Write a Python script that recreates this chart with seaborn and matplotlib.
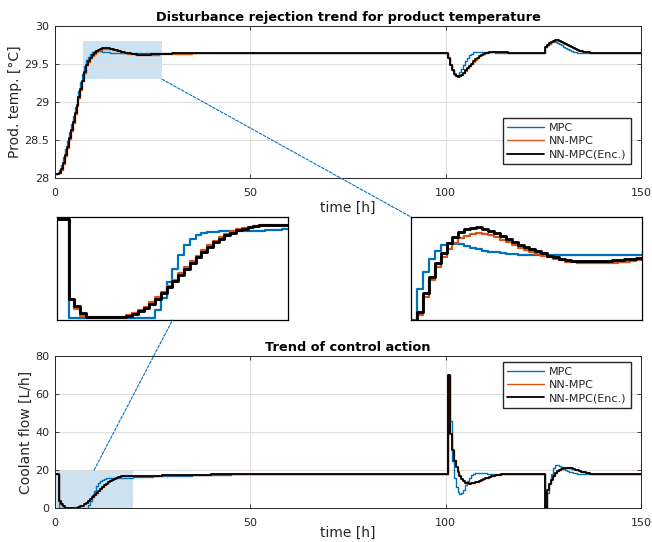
import numpy as np
import pandas as pd
import matplotlib
matplotlib.use("Agg")
import matplotlib.pyplot as plt
import seaborn as sns
from matplotlib.patches import Rectangle, ConnectionPatch

sns.set_theme(style="ticks")
plt.rcParams['font.family'] = ['DejaVu Sans']
plt.rcParams['font.size'] = 8

# sampling grid [h] (0.5 h steps in the transients, sparse in steady state)
t = np.concatenate([
    np.arange(0, 30.01, 0.5),
    [32, 35, 40, 45, 50, 60, 70, 80, 90],
    np.arange(100, 115.01, 0.5),
    [116, 117, 118, 120, 122, 124],
    np.arange(125, 135.01, 0.5),
    [136, 137, 138, 140, 145, 150],
])

# product temperature [°C]
temp_mpc = [
    28.05, 28.06, 28.10, 28.17, 28.27, 28.38, 28.49, 28.60, 28.71, 28.82,
    28.93, 29.04, 29.15, 29.26, 29.37, 29.47, 29.55, 29.595, 29.63, 29.652,
    29.666, 29.671, 29.670, 29.668, 29.664, 29.660, 29.656, 29.652, 29.649, 29.647,
    29.645, 29.643, 29.642, 29.641, 29.641, 29.641, 29.641, 29.641, 29.641, 29.641,
    29.641, 29.641, 29.641, 29.641, 29.641, 29.641, 29.641, 29.641, 29.641, 29.641,
    29.641, 29.641, 29.641, 29.641, 29.641, 29.641, 29.641, 29.641, 29.641, 29.641,
    29.641,
    29.642, 29.643, 29.644, 29.645, 29.645, 29.645, 29.645, 29.645, 29.645,
    29.645, 29.58, 29.49, 29.415, 29.36, 29.34, 29.35, 29.39, 29.44, 29.49,
    29.54, 29.58, 29.615, 29.638, 29.652, 29.66, 29.663, 29.664, 29.663, 29.662,
    29.66, 29.658, 29.656, 29.654, 29.652, 29.65, 29.649, 29.648, 29.647, 29.646,
    29.645,
    29.645, 29.645, 29.645, 29.645, 29.645, 29.645,
    29.645, 29.72, 29.75, 29.775, 29.79, 29.795, 29.79, 29.778, 29.762, 29.745,
    29.727, 29.71, 29.694, 29.68, 29.668, 29.659, 29.653, 29.65, 29.648, 29.646,
    29.645,
    29.645, 29.645, 29.645, 29.645, 29.645, 29.645,
]
temp_nn = [
    28.05, 28.05, 28.06, 28.11, 28.19, 28.29, 28.40, 28.51, 28.62, 28.73,
    28.84, 28.95, 29.05, 29.16, 29.27, 29.38, 29.482, 29.531, 29.574, 29.608,
    29.634, 29.656, 29.672, 29.684, 29.691, 29.695, 29.697, 29.696, 29.692, 29.687,
    29.681, 29.674, 29.667, 29.660, 29.654, 29.648, 29.643, 29.638, 29.634, 29.630,
    29.626, 29.623, 29.621, 29.620, 29.619, 29.619, 29.619, 29.619, 29.619, 29.620,
    29.621, 29.623, 29.624, 29.626, 29.627, 29.628, 29.630, 29.631, 29.632, 29.633,
    29.634,
    29.637, 29.640, 29.643, 29.645, 29.645, 29.645, 29.645, 29.645, 29.645,
    29.645, 29.58, 29.49, 29.418, 29.367, 29.342, 29.333, 29.338, 29.357, 29.382,
    29.411, 29.441, 29.471, 29.501, 29.531, 29.557, 29.582, 29.603, 29.619, 29.631,
    29.641, 29.648, 29.653, 29.656, 29.657, 29.657, 29.656, 29.655, 29.654, 29.653,
    29.652,
    29.651, 29.649, 29.647, 29.646, 29.645, 29.645,
    29.645, 29.72, 29.745, 29.768, 29.787, 29.80, 29.807, 29.808, 29.803, 29.794,
    29.782, 29.768, 29.753, 29.738, 29.723, 29.709, 29.696, 29.685, 29.676, 29.668,
    29.661,
    29.654, 29.649, 29.646, 29.645, 29.645, 29.645,
]
temp_enc = [
    28.05, 28.05, 28.07, 28.12, 28.20, 28.30, 28.41, 28.52, 28.63, 28.74,
    28.85, 28.96, 29.06, 29.17, 29.28, 29.39, 29.49, 29.54, 29.584, 29.619,
    29.646, 29.671, 29.688, 29.701, 29.709, 29.712, 29.713, 29.709, 29.704, 29.697,
    29.690, 29.682, 29.674, 29.667, 29.661, 29.655, 29.651, 29.645, 29.639, 29.634,
    29.629, 29.626, 29.625, 29.624, 29.624, 29.624, 29.624, 29.625, 29.625, 29.626,
    29.628, 29.629, 29.630, 29.632, 29.633, 29.634, 29.635, 29.636, 29.637, 29.638,
    29.639,
    29.641, 29.643, 29.645, 29.645, 29.645, 29.645, 29.645, 29.645, 29.645,
    29.645, 29.58, 29.49, 29.42, 29.37, 29.345, 29.335, 29.34, 29.36, 29.385,
    29.415, 29.445, 29.475, 29.505, 29.535, 29.56, 29.585, 29.605, 29.62, 29.632,
    29.642, 29.649, 29.654, 29.657, 29.658, 29.658, 29.657, 29.656, 29.655, 29.654,
    29.653,
    29.651, 29.649, 29.647, 29.646, 29.645, 29.645,
    29.645, 29.72, 29.745, 29.77, 29.79, 29.805, 29.812, 29.812, 29.806, 29.796,
    29.783, 29.768, 29.752, 29.736, 29.72, 29.705, 29.692, 29.681, 29.672, 29.665,
    29.659,
    29.652, 29.648, 29.646, 29.645, 29.645, 29.645,
]

# coolant flow [L/h]
flow_mpc = [
    17.9, 17.9, 0.0, 0.0, 0.0, 0.0, 0.0, 0.0, 0.0, 0.0,
    0.0, 0.0, 0.0, 0.0, 0.0, 0.0, 0.0, 1.5, 3.6, 6.6,
    9.0, 11.4, 13.2, 14.3, 15.0, 15.4, 15.6, 15.65, 15.7, 15.7,
    15.7, 15.7, 15.72, 15.75, 15.8, 15.85, 15.9, 15.95, 16.0, 16.05,
    16.1, 16.15, 16.2, 16.25, 16.3, 16.35, 16.4, 16.45, 16.5, 16.55,
    16.6, 16.65, 16.7, 16.74, 16.78, 16.82, 16.86, 16.9, 16.94, 16.98,
    17.02,
    17.1, 17.3, 17.55, 17.7, 17.8, 17.88, 17.9, 17.9, 17.9,
    17.9, 70.0, 46.0, 25.0, 16.0, 11.0, 8.5, 7.4, 7.8, 9.5,
    12.0, 14.2, 16.0, 17.2, 18.0, 18.4, 18.5, 18.5, 18.4, 18.3,
    18.2, 18.1, 18.0, 17.95, 17.9, 17.9, 17.9, 17.9, 17.9, 17.9,
    17.9,
    17.9, 17.9, 17.9, 17.9, 17.9, 17.9,
    17.9, 0.0, 7.7, 13.0, 18.0, 21.0, 22.4, 22.6, 22.2, 21.5,
    20.8, 20.2, 19.7, 19.2, 18.8, 18.5, 18.3, 18.15, 18.0, 17.95,
    17.9,
    17.9, 17.9, 17.9, 17.9, 17.9, 17.9,
]
flow_nn = [
    17.9, 17.9, 3.5, 1.6, 0.4, 0.2, 0.2, 0.2, 0.2, 0.2,
    0.2, 0.25, 0.55, 0.95, 1.5, 2.1, 2.9, 3.8, 4.8, 5.9,
    7.0, 8.1, 9.2, 10.3, 11.3, 12.3, 13.2, 14.0, 14.7, 15.25,
    15.7, 16.05, 16.35, 16.55, 16.72, 16.84, 16.9, 16.93, 16.93, 16.9,
    16.88, 16.87, 16.87, 16.87, 16.88, 16.9, 16.92, 16.94, 16.96, 16.98,
    17.0, 17.02, 17.05, 17.08, 17.11, 17.14, 17.17, 17.2, 17.23, 17.26,
    17.29,
    17.36, 17.5, 17.65, 17.75, 17.82, 17.88, 17.9, 17.9, 17.9,
    17.9, 70.0, 39.5, 30.8, 25.2, 21.6, 19.0, 17.0, 15.3, 14.1,
    13.4, 13.1, 13.0, 13.05, 13.25, 13.55, 13.9, 14.3, 14.75, 15.2,
    15.6, 16.0, 16.35, 16.7, 16.95, 17.2, 17.4, 17.55, 17.7, 17.8,
    17.85,
    17.9, 17.92, 17.95, 17.95, 17.92, 17.9,
    17.9, 0.0, 9.8, 12.8, 15.2, 17.0, 18.3, 19.3, 20.0, 20.5,
    20.85, 21.05, 21.1, 21.0, 20.8, 20.5, 20.15, 19.8, 19.4, 19.05,
    18.75,
    18.35, 18.05, 17.9, 17.9, 17.9, 17.9,
]
flow_enc = [
    17.9, 17.9, 3.5, 2.2, 1.0, 0.2, 0.2, 0.2, 0.2, 0.2,
    0.2, 0.2, 0.45, 0.8, 1.3, 1.9, 2.6, 3.5, 4.5, 5.6,
    6.7, 7.8, 8.9, 10.0, 11.0, 12.0, 12.9, 13.7, 14.4, 15.0,
    15.5, 15.9, 16.2, 16.45, 16.65, 16.8, 16.85, 16.9, 16.9, 16.88,
    16.85, 16.84, 16.84, 16.85, 16.86, 16.88, 16.9, 16.92, 16.94, 16.96,
    16.98, 17.0, 17.03, 17.06, 17.09, 17.12, 17.15, 17.18, 17.21, 17.24,
    17.27,
    17.35, 17.5, 17.65, 17.75, 17.82, 17.88, 17.9, 17.9, 17.9,
    17.9, 70.0, 39.0, 30.5, 25.0, 21.5, 19.0, 17.0, 15.2, 14.0,
    13.3, 13.0, 12.9, 13.0, 13.2, 13.5, 13.9, 14.3, 14.8, 15.2,
    15.6, 16.0, 16.4, 16.7, 17.0, 17.2, 17.4, 17.55, 17.7, 17.8,
    17.85,
    17.9, 17.92, 17.95, 17.95, 17.92, 17.9,
    17.9, 0.0, 9.5, 12.5, 15.0, 16.8, 18.2, 19.3, 20.0, 20.5,
    20.9, 21.1, 21.2, 21.1, 20.9, 20.6, 20.2, 19.8, 19.4, 19.0,
    18.7,
    18.3, 18.0, 17.9, 17.9, 17.9, 17.9,
]

names = ['MPC', 'NN-MPC', 'NN-MPC(Enc.)']
colors = {'MPC': '#0072BD', 'NN-MPC': '#D95319', 'NN-MPC(Enc.)': '#000000'}
widths = {'MPC': 1.0, 'NN-MPC': 1.0, 'NN-MPC(Enc.)': 1.3}

df = pd.DataFrame({
    'time': np.tile(t, 3),
    'temp': temp_mpc + temp_nn + temp_enc,
    'flow': flow_mpc + flow_nn + flow_enc,
    'ctrl': np.repeat(names, len(t)),
})

GRID = '#DEDEDE'
DARK = '#262626'


def draw(ax, col, scale=1.0):
    for name in names:
        sns.lineplot(data=df[df['ctrl'] == name], x='time', y=col, ax=ax,
                     color=colors[name], linewidth=widths[name] * scale,
                     drawstyle='steps-post', estimator=None, sort=False,
                     legend=False)
    ax.set_xlabel('')
    ax.set_ylabel('')


def style_main(ax):
    ax.grid(True, color=GRID, lw=0.8)
    ax.tick_params(direction='in', top=True, right=True, length=3,
                   color=DARK, labelcolor=DARK, labelsize=8, width=0.6)
    ax.tick_params(axis='x', pad=7)
    ax.tick_params(axis='y', pad=4)
    for s in ax.spines.values():
        s.set_color(DARK)
        s.set_linewidth(0.7)


def style_inset(ax):
    ax.set_xticks([])
    ax.set_yticks([])
    for s in ax.spines.values():
        s.set_color('black')
        s.set_linewidth(0.9)


def add_legend(ax, loc, anchor):
    ax.legend(handles=ax.get_lines()[:3], labels=names, loc=loc,
              bbox_to_anchor=anchor, borderaxespad=0, fontsize=8,
              frameon=True, fancybox=False, framealpha=1, edgecolor=DARK,
              handlelength=3.3, labelspacing=0.3, borderpad=0.4,
              handletextpad=0.5)


fig = plt.figure(figsize=(6.52, 5.42), dpi=100)

# top: product temperature
ax1 = fig.add_axes([0.0844, 0.6716, 0.899, 0.2804])
draw(ax1, 'temp')
ax1.set_xlim(0, 150)
ax1.set_ylim(28, 30)
ax1.set_xticks([0, 50, 100, 150])
ax1.set_yticks([28, 28.5, 29, 29.5, 30])
ax1.set_yticklabels(['28', '28.5', '29', '29.5', '30'])
style_main(ax1)
ax1.set_title('Disturbance rejection trend for product temperature',
              fontsize=9.3, fontweight='bold', pad=3.5, color='black')
ax1.set_xlabel('time [h]', fontsize=10, color=DARK, labelpad=2)
ax1.set_ylabel('Prod. temp. [°C]', fontsize=10, color=DARK, labelpad=2)
ax1.add_patch(Rectangle((7.2, 29.3), 20.2, 0.5, facecolor='#0072BD',
                        alpha=0.2, edgecolor='none', zorder=0.5))
add_legend(ax1, 'lower right', (0.983, 0.092))

# bottom: coolant flow
ax2 = fig.add_axes([0.0844, 0.0627, 0.899, 0.2804])
draw(ax2, 'flow')
ax2.set_xlim(0, 150)
ax2.set_ylim(0, 80)
ax2.set_xticks([0, 50, 100, 150])
ax2.set_yticks([0, 20, 40, 60, 80])
style_main(ax2)
ax2.set_title('Trend of control action', fontsize=9.3, fontweight='bold',
              pad=3.5, color='black')
ax2.set_xlabel('time [h]', fontsize=10, color=DARK, labelpad=-1)
ax2.set_ylabel('Coolant flow [L/h]', fontsize=10, color=DARK, labelpad=2)
ax2.add_patch(Rectangle((0, 0), 20, 20, facecolor='#0072BD',
                        alpha=0.2, edgecolor='none', zorder=0.5))
add_legend(ax2, 'upper right', (0.983, 0.96))

# left inset: zoom of coolant flow start-up
axl = fig.add_axes([0.0874, 0.4096, 0.3543, 0.190])
draw(axl, 'flow', scale=1.6)
axl.set_xlim(0, 20)
axl.set_ylim(-0.3, 18.3)
style_inset(axl)

# right inset: zoom of temperature overshoot
axr = fig.add_axes([0.6304, 0.4096, 0.3543, 0.190])
draw(axr, 'temp', scale=1.6)
axr.set_xlim(7.5, 27)
axr.set_ylim(29.47, 29.74)
style_inset(axr)

# dashed connectors
for xyA, axA, xyB, axB in [((27.4, 29.3), ax1, (0, 1), axr),
                           ((10, 20), ax2, (0.5, 0), axl)]:
    con = ConnectionPatch(xyA=xyA, coordsA=axA.transData, xyB=xyB,
                          coordsB=axB.transAxes, color='#0072BD', lw=0.8,
                          linestyle=(0, (2.5, 1.5)))
    fig.add_artist(con)

fig.savefig('out.png', dpi=100)
